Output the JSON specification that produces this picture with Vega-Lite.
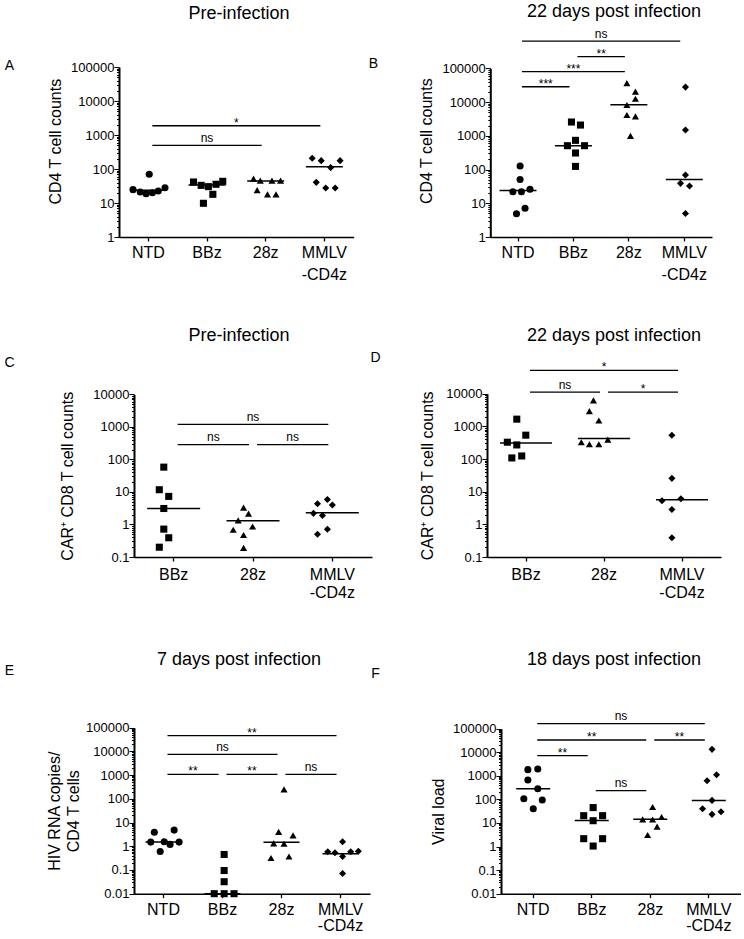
{
  "$schema": "https://vega.github.io/schema/vega-lite/v6.json",
  "padding": {"left": 3, "top": 2, "right": 0, "bottom": 0},
  "config": {
    "font": "Liberation Sans",
    "view": {"stroke": null},
    "axis": {"domainColor": "#000", "tickColor": "#000", "labelColor": "#000", "titleColor": "#000", "labelFont": "Liberation Sans", "titleFont": "Liberation Sans", "titleFontWeight": "normal", "grid": false},
    "title": {"font": "Liberation Sans", "fontSize": 18, "fontWeight": "normal", "color": "#000", "frame": "group"},
    "text": {"font": "Liberation Sans", "color": "#000"}
  },
  "datasets": {
    "points": [
      {"panel": "A", "group": "NTD", "value": 24.7, "dodge": -1.7},
      {"panel": "A", "group": "NTD", "value": 21, "dodge": -0.9},
      {"panel": "A", "group": "NTD", "value": 18.8, "dodge": -0.25},
      {"panel": "A", "group": "NTD", "value": 20.1, "dodge": 0.45},
      {"panel": "A", "group": "NTD", "value": 22.5, "dodge": 1.1},
      {"panel": "A", "group": "NTD", "value": 28.2, "dodge": 1.85},
      {"panel": "A", "group": "NTD", "value": 69.7, "dodge": 0.1},
      {"panel": "A", "group": "BBz", "value": 41.5, "dodge": -1.5},
      {"panel": "A", "group": "BBz", "value": 33, "dodge": -0.65},
      {"panel": "A", "group": "BBz", "value": 30.3, "dodge": 0.15},
      {"panel": "A", "group": "BBz", "value": 35.5, "dodge": 1.0},
      {"panel": "A", "group": "BBz", "value": 43.4, "dodge": 1.75},
      {"panel": "A", "group": "BBz", "value": 18, "dodge": 0.65},
      {"panel": "A", "group": "BBz", "value": 9.8, "dodge": -0.4},
      {"panel": "A", "group": "28z", "value": 52, "dodge": -1.35},
      {"panel": "A", "group": "28z", "value": 45.4, "dodge": -0.6},
      {"panel": "A", "group": "28z", "value": 45.4, "dodge": 0.7},
      {"panel": "A", "group": "28z", "value": 45.4, "dodge": 1.65},
      {"panel": "A", "group": "28z", "value": 24, "dodge": -0.95},
      {"panel": "A", "group": "28z", "value": 18, "dodge": 0.2},
      {"panel": "A", "group": "28z", "value": 18, "dodge": 1.15},
      {"panel": "A", "group": "MMLV-CD4z", "value": 206, "dodge": -1.35},
      {"panel": "A", "group": "MMLV-CD4z", "value": 176, "dodge": -0.35},
      {"panel": "A", "group": "MMLV-CD4z", "value": 176, "dodge": 1.75},
      {"panel": "A", "group": "MMLV-CD4z", "value": 110, "dodge": 0.7},
      {"panel": "A", "group": "MMLV-CD4z", "value": 40.5, "dodge": -0.9},
      {"panel": "A", "group": "MMLV-CD4z", "value": 27.6, "dodge": 0.15},
      {"panel": "A", "group": "MMLV-CD4z", "value": 27.6, "dodge": 1.2},

      {"panel": "B", "group": "NTD", "value": 127, "dodge": 0.05},
      {"panel": "B", "group": "NTD", "value": 51, "dodge": 0.05},
      {"panel": "B", "group": "NTD", "value": 22, "dodge": -0.75},
      {"panel": "B", "group": "NTD", "value": 22, "dodge": 0.2},
      {"panel": "B", "group": "NTD", "value": 26, "dodge": 1.15},
      {"panel": "B", "group": "NTD", "value": 7.1, "dodge": 0.6},
      {"panel": "B", "group": "NTD", "value": 4.9, "dodge": -0.35},
      {"panel": "B", "group": "BBz", "value": 2570, "dodge": -0.4},
      {"panel": "B", "group": "BBz", "value": 2090, "dodge": 0.6},
      {"panel": "B", "group": "BBz", "value": 735, "dodge": 0.05},
      {"panel": "B", "group": "BBz", "value": 510, "dodge": -0.85},
      {"panel": "B", "group": "BBz", "value": 510, "dodge": 1.05},
      {"panel": "B", "group": "BBz", "value": 310, "dodge": 0.05},
      {"panel": "B", "group": "BBz", "value": 124, "dodge": 0.05},
      {"panel": "B", "group": "28z", "value": 36700, "dodge": -0.4},
      {"panel": "B", "group": "28z", "value": 20400, "dodge": 0.55},
      {"panel": "B", "group": "28z", "value": 12600, "dodge": 0.55},
      {"panel": "B", "group": "28z", "value": 8190, "dodge": -0.4},
      {"panel": "B", "group": "28z", "value": 4150, "dodge": -0.4},
      {"panel": "B", "group": "28z", "value": 3780, "dodge": 0.55},
      {"panel": "B", "group": "28z", "value": 1000, "dodge": 0},
      {"panel": "B", "group": "MMLV-CD4z", "value": 27900, "dodge": -0.05},
      {"panel": "B", "group": "MMLV-CD4z", "value": 1490, "dodge": -0.05},
      {"panel": "B", "group": "MMLV-CD4z", "value": 69, "dodge": -0.05},
      {"panel": "B", "group": "MMLV-CD4z", "value": 39, "dodge": -0.6},
      {"panel": "B", "group": "MMLV-CD4z", "value": 32.5, "dodge": 0.4},
      {"panel": "B", "group": "MMLV-CD4z", "value": 5, "dodge": -0.05},

      {"panel": "C", "group": "BBz", "value": 58, "dodge": 0.05},
      {"panel": "C", "group": "BBz", "value": 11.7, "dodge": -0.45},
      {"panel": "C", "group": "BBz", "value": 7.3, "dodge": 0.6},
      {"panel": "C", "group": "BBz", "value": 3.1, "dodge": 0.05},
      {"panel": "C", "group": "BBz", "value": 0.72, "dodge": 0.05},
      {"panel": "C", "group": "BBz", "value": 0.39, "dodge": 0.6},
      {"panel": "C", "group": "BBz", "value": 0.2, "dodge": -0.45},
      {"panel": "C", "group": "28z", "value": 3.29, "dodge": 0.1},
      {"panel": "C", "group": "28z", "value": 2.15, "dodge": 0.65},
      {"panel": "C", "group": "28z", "value": 1.34, "dodge": -0.5},
      {"panel": "C", "group": "28z", "value": 0.87, "dodge": 1.1},
      {"panel": "C", "group": "28z", "value": 0.69, "dodge": -1.05},
      {"panel": "C", "group": "28z", "value": 0.475, "dodge": 0.1},
      {"panel": "C", "group": "28z", "value": 0.19, "dodge": 0.1},
      {"panel": "C", "group": "MMLV-CD4z", "value": 4.36, "dodge": -0.5},
      {"panel": "C", "group": "MMLV-CD4z", "value": 5.9, "dodge": 0.6},
      {"panel": "C", "group": "MMLV-CD4z", "value": 3.98, "dodge": 1.15},
      {"panel": "C", "group": "MMLV-CD4z", "value": 2.2, "dodge": -0.95},
      {"panel": "C", "group": "MMLV-CD4z", "value": 1.9, "dodge": 0.05},
      {"panel": "C", "group": "MMLV-CD4z", "value": 0.71, "dodge": 0.6},
      {"panel": "C", "group": "MMLV-CD4z", "value": 0.5, "dodge": -0.5},

      {"panel": "D", "group": "BBz", "value": 1663, "dodge": 0.05},
      {"panel": "D", "group": "BBz", "value": 537, "dodge": 1.05},
      {"panel": "D", "group": "BBz", "value": 327, "dodge": -1.0},
      {"panel": "D", "group": "BBz", "value": 270, "dodge": 0.05},
      {"panel": "D", "group": "BBz", "value": 124, "dodge": 0.6},
      {"panel": "D", "group": "BBz", "value": 108, "dodge": -0.5},
      {"panel": "D", "group": "28z", "value": 6240, "dodge": -0.1},
      {"panel": "D", "group": "28z", "value": 2930, "dodge": -0.55},
      {"panel": "D", "group": "28z", "value": 1514, "dodge": 0.5},
      {"panel": "D", "group": "28z", "value": 327, "dodge": -1.45},
      {"panel": "D", "group": "28z", "value": 284, "dodge": -0.55},
      {"panel": "D", "group": "28z", "value": 284, "dodge": 0.5},
      {"panel": "D", "group": "28z", "value": 394, "dodge": 1.5},
      {"panel": "D", "group": "MMLV-CD4z", "value": 537, "dodge": -0.05},
      {"panel": "D", "group": "MMLV-CD4z", "value": 25.6, "dodge": -0.05},
      {"panel": "D", "group": "MMLV-CD4z", "value": 5.3, "dodge": -1.15},
      {"panel": "D", "group": "MMLV-CD4z", "value": 6.07, "dodge": 0.95},
      {"panel": "D", "group": "MMLV-CD4z", "value": 2.85, "dodge": -0.05},
      {"panel": "D", "group": "MMLV-CD4z", "value": 0.39, "dodge": -0.05},

      {"panel": "E", "group": "NTD", "value": 1.5, "dodge": -1.4},
      {"panel": "E", "group": "NTD", "value": 1.55, "dodge": 0.1},
      {"panel": "E", "group": "NTD", "value": 1.2, "dodge": 0.75},
      {"panel": "E", "group": "NTD", "value": 1.5, "dodge": 1.75},
      {"panel": "E", "group": "NTD", "value": 3.9, "dodge": -1.0},
      {"panel": "E", "group": "NTD", "value": 4.8, "dodge": 1.2},
      {"panel": "E", "group": "NTD", "value": 0.6, "dodge": -0.35},
      {"panel": "E", "group": "BBz", "value": 0.45, "dodge": 0.2},
      {"panel": "E", "group": "BBz", "value": 0.095, "dodge": 0.2},
      {"panel": "E", "group": "BBz", "value": 0.032, "dodge": 0.2},
      {"panel": "E", "group": "BBz", "value": 0.01, "dodge": -0.9},
      {"panel": "E", "group": "BBz", "value": 0.01, "dodge": 0.2},
      {"panel": "E", "group": "BBz", "value": 0.01, "dodge": 1.3},
      {"panel": "E", "group": "28z", "value": 4.07, "dodge": -0.3},
      {"panel": "E", "group": "28z", "value": 2.89, "dodge": 1.3},
      {"panel": "E", "group": "28z", "value": 1.32, "dodge": -0.85},
      {"panel": "E", "group": "28z", "value": 1.28, "dodge": 0.3},
      {"panel": "E", "group": "28z", "value": 0.32, "dodge": -1.15},
      {"panel": "E", "group": "28z", "value": 0.37, "dodge": 0.85},
      {"panel": "E", "group": "28z", "value": 251, "dodge": 0.3},
      {"panel": "E", "group": "MMLV-CD4z", "value": 1.55, "dodge": 0.25},
      {"panel": "E", "group": "MMLV-CD4z", "value": 0.59, "dodge": -1.4},
      {"panel": "E", "group": "MMLV-CD4z", "value": 0.53, "dodge": -0.6},
      {"panel": "E", "group": "MMLV-CD4z", "value": 0.59, "dodge": 1.15},
      {"panel": "E", "group": "MMLV-CD4z", "value": 0.62, "dodge": 2.0},
      {"panel": "E", "group": "MMLV-CD4z", "value": 0.37, "dodge": 0.25},
      {"panel": "E", "group": "MMLV-CD4z", "value": 0.071, "dodge": 0.25},

      {"panel": "F", "group": "NTD", "value": 1830, "dodge": -0.6},
      {"panel": "F", "group": "NTD", "value": 1950, "dodge": 0.5},
      {"panel": "F", "group": "NTD", "value": 665, "dodge": -0.6},
      {"panel": "F", "group": "NTD", "value": 285, "dodge": 0.5},
      {"panel": "F", "group": "NTD", "value": 107, "dodge": -1.05},
      {"panel": "F", "group": "NTD", "value": 94, "dodge": 1.0},
      {"panel": "F", "group": "NTD", "value": 40.5, "dodge": 0},
      {"panel": "F", "group": "BBz", "value": 45, "dodge": 0.15},
      {"panel": "F", "group": "BBz", "value": 20.4, "dodge": -0.9},
      {"panel": "F", "group": "BBz", "value": 20.4, "dodge": 1.2},
      {"panel": "F", "group": "BBz", "value": 12.5, "dodge": 0.15},
      {"panel": "F", "group": "BBz", "value": 2.16, "dodge": -0.9},
      {"panel": "F", "group": "BBz", "value": 2.16, "dodge": 1.2},
      {"panel": "F", "group": "BBz", "value": 1.05, "dodge": 0.15},
      {"panel": "F", "group": "28z", "value": 47.5, "dodge": 0.25},
      {"panel": "F", "group": "28z", "value": 17.9, "dodge": 1.25},
      {"panel": "F", "group": "28z", "value": 14.3, "dodge": -0.85},
      {"panel": "F", "group": "28z", "value": 14, "dodge": 0.25},
      {"panel": "F", "group": "28z", "value": 7, "dodge": 0.75},
      {"panel": "F", "group": "28z", "value": 3.1, "dodge": -0.3},
      {"panel": "F", "group": "MMLV-CD4z", "value": 13300, "dodge": 0.35},
      {"panel": "F", "group": "MMLV-CD4z", "value": 1120, "dodge": 0.85},
      {"panel": "F", "group": "MMLV-CD4z", "value": 624, "dodge": -0.2},
      {"panel": "F", "group": "MMLV-CD4z", "value": 91, "dodge": 0.35},
      {"panel": "F", "group": "MMLV-CD4z", "value": 40.5, "dodge": -0.7},
      {"panel": "F", "group": "MMLV-CD4z", "value": 30.2, "dodge": 1.35},
      {"panel": "F", "group": "MMLV-CD4z", "value": 23.2, "dodge": 0.35}
    ],
    "medians": [
      {"panel": "A", "group": "NTD", "value": 23.6},
      {"panel": "A", "group": "BBz", "value": 34},
      {"panel": "A", "group": "28z", "value": 44.4},
      {"panel": "A", "group": "MMLV-CD4z", "value": 117},
      {"panel": "B", "group": "NTD", "value": 24},
      {"panel": "B", "group": "BBz", "value": 510},
      {"panel": "B", "group": "28z", "value": 8300},
      {"panel": "B", "group": "MMLV-CD4z", "value": 51},
      {"panel": "C", "group": "BBz", "value": 3.1},
      {"panel": "C", "group": "28z", "value": 1.3},
      {"panel": "C", "group": "MMLV-CD4z", "value": 2.3},
      {"panel": "D", "group": "BBz", "value": 312},
      {"panel": "D", "group": "28z", "value": 424},
      {"panel": "D", "group": "MMLV-CD4z", "value": 5.65},
      {"panel": "E", "group": "NTD", "value": 1.5},
      {"panel": "E", "group": "BBz", "value": 0.01},
      {"panel": "E", "group": "28z", "value": 1.46},
      {"panel": "E", "group": "MMLV-CD4z", "value": 0.48},
      {"panel": "F", "group": "NTD", "value": 285},
      {"panel": "F", "group": "BBz", "value": 12.9},
      {"panel": "F", "group": "28z", "value": 14.3},
      {"panel": "F", "group": "MMLV-CD4z", "value": 91}
    ],
    "sig": [
      {"panel": "A", "from": "NTD", "to": "MMLV-CD4z", "value": 1870, "label": "*"},
      {"panel": "A", "from": "NTD", "to": "28z", "value": 494, "label": "ns"},
      {"panel": "B", "from": "NTD", "to": "MMLV-CD4z", "value": 645000, "label": "ns"},
      {"panel": "B", "from": "BBz", "to": "28z", "value": 222000, "label": "**"},
      {"panel": "B", "from": "NTD", "to": "28z", "value": 79700, "label": "***"},
      {"panel": "B", "from": "NTD", "to": "BBz", "value": 28600, "label": "***"},
      {"panel": "C", "from": "BBz", "to": "MMLV-CD4z", "value": 1200, "label": "ns"},
      {"panel": "C", "from": "BBz", "to": "28z", "value": 284, "label": "ns"},
      {"panel": "C", "from": "28z", "to": "MMLV-CD4z", "value": 284, "label": "ns"},
      {"panel": "D", "from": "BBz", "to": "MMLV-CD4z", "value": 52100, "label": "*"},
      {"panel": "D", "from": "BBz", "to": "28z", "value": 11200, "label": "ns"},
      {"panel": "D", "from": "28z", "to": "MMLV-CD4z", "value": 11200, "label": "*"},
      {"panel": "E", "from": "NTD", "to": "MMLV-CD4z", "value": 46400, "label": "**"},
      {"panel": "E", "from": "NTD", "to": "28z", "value": 7570, "label": "ns"},
      {"panel": "E", "from": "NTD", "to": "BBz", "value": 1080, "label": "**"},
      {"panel": "E", "from": "BBz", "to": "28z", "value": 1080, "label": "**"},
      {"panel": "E", "from": "28z", "to": "MMLV-CD4z", "value": 1080, "label": "ns"},
      {"panel": "F", "from": "NTD", "to": "MMLV-CD4z", "value": 163000, "label": "ns"},
      {"panel": "F", "from": "NTD", "to": "28z", "value": 33100, "label": "**"},
      {"panel": "F", "from": "28z", "to": "MMLV-CD4z", "value": 33100, "label": "**"},
      {"panel": "F", "from": "NTD", "to": "BBz", "value": 7180, "label": "**"},
      {"panel": "F", "from": "BBz", "to": "28z", "value": 234, "label": "ns"}
    ]
  },
  "columns": 2,
  "bounds": "flush",
  "align": "each",
  "spacing": {"row": 143, "column": 115},
  "concat": [
    {
      "width": 253, "height": 170,
      "title": {"text": "Pre-infection", "offset": 35.5, "dx": -6.5},
      "layer": [
        {"data": {"name": "points"}, "transform": [{"filter": "datum.panel == 'A'"}],
         "mark": {"type": "point", "filled": true, "size": 50, "color": "#000", "opacity": 1},
         "encoding": {
           "x": {"field": "group", "type": "nominal", "scale": {"type": "band", "domain": ["NTD", "BBz", "28z", "MMLV-CD4z"], "range": [0, 234.7], "paddingInner": 0, "paddingOuter": 0},
                 "axis": {"title": "A", "titleX": -110, "titleY": -171.3, "titleAngle": 0, "titleAlign": "center", "titleBaseline": "middle", "titleFontSize": 14, "labelAngle": 0, "labelFontSize": 16, "labelPadding": 3, "tickSize": 4, "tickWidth": 1.3, "domainWidth": 1.5, "labelLineHeight": 22, "labelBaseline": "top", "labelExpr": "datum.value == 'MMLV-CD4z' ? ['MMLV', '-CD4z'] : datum.label"}},
           "xOffset": {"field": "dodge", "type": "quantitative", "scale": {"domain": [-4, 4], "range": [-6.66, 65.34]}},
           "y": {"field": "value", "type": "quantitative", "scale": {"type": "log", "domain": [1, 100000], "range": [170, 0], "nice": false},
                 "axis": {"title": "CD4 T cell counts", "titleY": 74.2, "titleFontSize": 16, "titlePadding": 7, "labelFontSize": 13, "labelPadding": 0, "domainWidth": 2, "tickWidth": 1, "labelOverlap": false, "labelFlush": false,
                          "values": [1,2,3,4,5,6,7,8,9,10,20,30,40,50,60,70,80,90,100,200,300,400,500,600,700,800,900,1000,2000,3000,4000,5000,6000,7000,8000,9000,10000,20000,30000,40000,50000,60000,70000,80000,90000,100000],
                          "labelExpr": "abs(log(datum.value)/LN10 - round(log(datum.value)/LN10)) < 0.0001 ? format(datum.value, '~g') : ''",
                          "tickSize": {"condition": {"test": "abs(log(datum.value)/LN10 - round(log(datum.value)/LN10)) < 0.0001", "value": 5}, "value": 2.5}}},
           "shape": {"field": "group", "type": "nominal", "scale": {"domain": ["NTD", "BBz", "28z", "MMLV-CD4z"], "range": ["circle", "square", "triangle-up", "diamond"]}, "legend": null}
         }},
        {"data": {"name": "medians"}, "transform": [{"filter": "datum.panel == 'A'"}],
         "mark": {"type": "tick", "size": 37, "thickness": 1.5, "color": "#000", "opacity": 1},
         "encoding": {"x": {"field": "group", "type": "nominal", "scale": {"domain": ["NTD", "BBz", "28z", "MMLV-CD4z"]}},
                      "y": {"field": "value", "type": "quantitative", "scale": {"type": "log", "domain": [1, 100000], "nice": false}}}},
        {"data": {"name": "sig"}, "transform": [{"filter": "datum.panel == 'A'"}],
         "mark": {"type": "rule", "color": "#000", "strokeWidth": 1.3, "xOffset": 4, "x2Offset": -4},
         "encoding": {"x": {"field": "from", "type": "nominal", "scale": {"domain": ["NTD", "BBz", "28z", "MMLV-CD4z"]}}, "x2": {"field": "to"},
                      "y": {"field": "value", "type": "quantitative", "scale": {"type": "log", "domain": [1, 100000], "nice": false}}}},
        {"data": {"name": "sig"}, "transform": [{"filter": "datum.panel == 'A' && indexof(['NTD','BBz','28z','MMLV-CD4z'], datum.to) - indexof(['NTD','BBz','28z','MMLV-CD4z'], datum.from) == 3"}],
         "mark": {"type": "text", "fontSize": 12, "baseline": "alphabetic", "dy": {"expr": "datum.label == 'ns' ? -3.5 : 1"}},
         "encoding": {"x": {"field": "from", "type": "nominal", "bandPosition": 2.0, "scale": {"domain": ["NTD", "BBz", "28z", "MMLV-CD4z"]}},
                      "y": {"field": "value", "type": "quantitative", "scale": {"type": "log", "domain": [1, 100000], "nice": false}}, "text": {"field": "label"}}},
        {"data": {"name": "sig"}, "transform": [{"filter": "datum.panel == 'A' && indexof(['NTD','BBz','28z','MMLV-CD4z'], datum.to) - indexof(['NTD','BBz','28z','MMLV-CD4z'], datum.from) == 2"}],
         "mark": {"type": "text", "fontSize": 12, "baseline": "alphabetic", "dy": {"expr": "datum.label == 'ns' ? -3.5 : 1"}},
         "encoding": {"x": {"field": "from", "type": "nominal", "bandPosition": 1.5, "scale": {"domain": ["NTD", "BBz", "28z", "MMLV-CD4z"]}},
                      "y": {"field": "value", "type": "quantitative", "scale": {"type": "log", "domain": [1, 100000], "nice": false}}, "text": {"field": "label"}}}
      ]
    },
    {
      "width": 254, "height": 170,
      "title": {"text": "22 days post infection", "offset": 7, "dx": 0},
      "layer": [
        {"data": {"name": "points"}, "transform": [{"filter": "datum.panel == 'B'"}],
         "mark": {"type": "point", "filled": true, "size": 50, "color": "#000", "opacity": 1},
         "encoding": {
           "x": {"field": "group", "type": "nominal", "scale": {"type": "band", "domain": ["NTD", "BBz", "28z", "MMLV-CD4z"], "range": [3.3, 225], "paddingInner": 0, "paddingOuter": 0},
                 "axis": {"title": "B", "titleX": -114, "titleY": -173.3, "titleAngle": 0, "titleAlign": "center", "titleBaseline": "middle", "titleFontSize": 14, "labelAngle": 0, "labelFontSize": 16, "labelPadding": 3, "tickSize": 4, "tickWidth": 1.3, "domainWidth": 1.5, "labelLineHeight": 22, "labelBaseline": "top", "labelExpr": "datum.value == 'MMLV-CD4z' ? ['MMLV', '-CD4z'] : datum.label"}},
           "xOffset": {"field": "dodge", "type": "quantitative", "scale": {"domain": [-4, 4], "range": [-8.29, 63.71]}},
           "y": {"field": "value", "type": "quantitative", "scale": {"type": "log", "domain": [1, 100000], "range": [170, 1.4], "nice": false},
                 "axis": {"title": "CD4 T cell counts", "titleY": 73.7, "offset": -3.3, "titleFontSize": 16, "titlePadding": 7, "labelFontSize": 13, "labelPadding": 0, "domainWidth": 2, "tickWidth": 1, "labelOverlap": false, "labelFlush": false,
                          "values": [1,2,3,4,5,6,7,8,9,10,20,30,40,50,60,70,80,90,100,200,300,400,500,600,700,800,900,1000,2000,3000,4000,5000,6000,7000,8000,9000,10000,20000,30000,40000,50000,60000,70000,80000,90000,100000],
                          "labelExpr": "abs(log(datum.value)/LN10 - round(log(datum.value)/LN10)) < 0.0001 ? format(datum.value, '~g') : ''",
                          "tickSize": {"condition": {"test": "abs(log(datum.value)/LN10 - round(log(datum.value)/LN10)) < 0.0001", "value": 5}, "value": 2.5}}},
           "shape": {"field": "group", "type": "nominal", "scale": {"domain": ["NTD", "BBz", "28z", "MMLV-CD4z"], "range": ["circle", "square", "triangle-up", "diamond"]}, "legend": null}
         }},
        {"data": {"name": "medians"}, "transform": [{"filter": "datum.panel == 'B'"}],
         "mark": {"type": "tick", "size": 37, "thickness": 1.5, "color": "#000", "opacity": 1},
         "encoding": {"x": {"field": "group", "type": "nominal", "scale": {"domain": ["NTD", "BBz", "28z", "MMLV-CD4z"]}},
                      "y": {"field": "value", "type": "quantitative", "scale": {"type": "log", "domain": [1, 100000], "nice": false}}}},
        {"data": {"name": "sig"}, "transform": [{"filter": "datum.panel == 'B'"}],
         "mark": {"type": "rule", "color": "#000", "strokeWidth": 1.3, "xOffset": 4, "x2Offset": -4},
         "encoding": {"x": {"field": "from", "type": "nominal", "scale": {"domain": ["NTD", "BBz", "28z", "MMLV-CD4z"]}}, "x2": {"field": "to"},
                      "y": {"field": "value", "type": "quantitative", "scale": {"type": "log", "domain": [1, 100000], "nice": false}}}},
        {"data": {"name": "sig"}, "transform": [{"filter": "datum.panel == 'B' && indexof(['NTD','BBz','28z','MMLV-CD4z'], datum.to) - indexof(['NTD','BBz','28z','MMLV-CD4z'], datum.from) == 3"}],
         "mark": {"type": "text", "fontSize": 12, "baseline": "alphabetic", "dy": {"expr": "datum.label == 'ns' ? -3.5 : 1"}},
         "encoding": {"x": {"field": "from", "type": "nominal", "bandPosition": 2.0, "scale": {"domain": ["NTD", "BBz", "28z", "MMLV-CD4z"]}},
                      "y": {"field": "value", "type": "quantitative", "scale": {"type": "log", "domain": [1, 100000], "nice": false}}, "text": {"field": "label"}}},
        {"data": {"name": "sig"}, "transform": [{"filter": "datum.panel == 'B' && indexof(['NTD','BBz','28z','MMLV-CD4z'], datum.to) - indexof(['NTD','BBz','28z','MMLV-CD4z'], datum.from) == 2"}],
         "mark": {"type": "text", "fontSize": 12, "baseline": "alphabetic", "dy": {"expr": "datum.label == 'ns' ? -3.5 : 1"}},
         "encoding": {"x": {"field": "from", "type": "nominal", "bandPosition": 1.5, "scale": {"domain": ["NTD", "BBz", "28z", "MMLV-CD4z"]}},
                      "y": {"field": "value", "type": "quantitative", "scale": {"type": "log", "domain": [1, 100000], "nice": false}}, "text": {"field": "label"}}},
        {"data": {"name": "sig"}, "transform": [{"filter": "datum.panel == 'B' && indexof(['NTD','BBz','28z','MMLV-CD4z'], datum.to) - indexof(['NTD','BBz','28z','MMLV-CD4z'], datum.from) == 1"}],
         "mark": {"type": "text", "fontSize": 12, "baseline": "alphabetic", "dy": {"expr": "datum.label == 'ns' ? -3.5 : 1"}},
         "encoding": {"x": {"field": "from", "type": "nominal", "bandPosition": 1.0, "scale": {"domain": ["NTD", "BBz", "28z", "MMLV-CD4z"]}},
                      "y": {"field": "value", "type": "quantitative", "scale": {"type": "log", "domain": [1, 100000], "nice": false}}, "text": {"field": "label"}}}
      ]
    },
    {
      "width": 253, "height": 177,
      "title": {"text": "Pre-infection", "offset": 10.5, "dx": -6.5},
      "layer": [
        {"data": {"name": "points"}, "transform": [{"filter": "datum.panel == 'C'"}],
         "mark": {"type": "point", "filled": true, "size": 50, "color": "#000", "opacity": 1},
         "encoding": {
           "x": {"field": "group", "type": "nominal", "scale": {"type": "band", "domain": ["BBz", "28z", "MMLV-CD4z"], "range": [15, 253], "paddingInner": 0, "paddingOuter": 0},
                 "axis": {"title": "C", "titleX": -110, "titleY": -194.3, "titleAngle": 0, "titleAlign": "center", "titleBaseline": "middle", "titleFontSize": 14, "labelAngle": 0, "labelFontSize": 16, "labelPadding": 5.5, "tickSize": 4, "tickWidth": 1.3, "domainWidth": 1.5, "labelLineHeight": 17.5, "labelBaseline": "top", "labelExpr": "datum.value == 'MMLV-CD4z' ? ['MMLV', '-CD4z'] : datum.label"}},
           "xOffset": {"field": "dodge", "type": "quantitative", "scale": {"domain": [-4, 4], "range": [3.67, 75.67]}},
           "y": {"field": "value", "type": "quantitative", "scale": {"type": "log", "domain": [0.1, 10000], "range": [177, 14.4], "nice": false},
                 "axis": {"title": "CAR⁺ CD8 T cell counts", "offset": -15, "titleFontSize": 16, "titlePadding": 17, "labelFontSize": 13, "labelPadding": 0, "domainWidth": 2, "tickWidth": 1, "labelOverlap": false, "labelFlush": false,
                          "values": [0.1,0.2,0.3,0.4,0.5,0.6,0.7,0.8,0.9,1,2,3,4,5,6,7,8,9,10,20,30,40,50,60,70,80,90,100,200,300,400,500,600,700,800,900,1000,2000,3000,4000,5000,6000,7000,8000,9000,10000],
                          "labelExpr": "abs(log(datum.value)/LN10 - round(log(datum.value)/LN10)) < 0.0001 ? format(datum.value, '~g') : ''",
                          "tickSize": {"condition": {"test": "abs(log(datum.value)/LN10 - round(log(datum.value)/LN10)) < 0.0001", "value": 5}, "value": 2.5}}},
           "shape": {"field": "group", "type": "nominal", "scale": {"domain": ["BBz", "28z", "MMLV-CD4z"], "range": ["square", "triangle-up", "diamond"]}, "legend": null}
         }},
        {"data": {"name": "medians"}, "transform": [{"filter": "datum.panel == 'C'"}],
         "mark": {"type": "tick", "size": 53, "thickness": 1.5, "color": "#000", "opacity": 1},
         "encoding": {"x": {"field": "group", "type": "nominal", "scale": {"domain": ["BBz", "28z", "MMLV-CD4z"]}},
                      "y": {"field": "value", "type": "quantitative", "scale": {"type": "log", "domain": [0.1, 10000], "nice": false}}}},
        {"data": {"name": "sig"}, "transform": [{"filter": "datum.panel == 'C'"}],
         "mark": {"type": "rule", "color": "#000", "strokeWidth": 1.3, "xOffset": 4, "x2Offset": -4},
         "encoding": {"x": {"field": "from", "type": "nominal", "scale": {"domain": ["BBz", "28z", "MMLV-CD4z"]}}, "x2": {"field": "to"},
                      "y": {"field": "value", "type": "quantitative", "scale": {"type": "log", "domain": [0.1, 10000], "nice": false}}}},
        {"data": {"name": "sig"}, "transform": [{"filter": "datum.panel == 'C' && indexof(['BBz','28z','MMLV-CD4z'], datum.to) - indexof(['BBz','28z','MMLV-CD4z'], datum.from) == 2"}],
         "mark": {"type": "text", "fontSize": 12, "baseline": "alphabetic", "dy": {"expr": "datum.label == 'ns' ? -3.5 : 1"}},
         "encoding": {"x": {"field": "from", "type": "nominal", "bandPosition": 1.5, "scale": {"domain": ["BBz", "28z", "MMLV-CD4z"]}},
                      "y": {"field": "value", "type": "quantitative", "scale": {"type": "log", "domain": [0.1, 10000], "nice": false}}, "text": {"field": "label"}}},
        {"data": {"name": "sig"}, "transform": [{"filter": "datum.panel == 'C' && indexof(['BBz','28z','MMLV-CD4z'], datum.to) - indexof(['BBz','28z','MMLV-CD4z'], datum.from) == 1"}],
         "mark": {"type": "text", "fontSize": 12, "baseline": "alphabetic", "dy": {"expr": "datum.label == 'ns' ? -3.5 : 1"}},
         "encoding": {"x": {"field": "from", "type": "nominal", "bandPosition": 1.0, "scale": {"domain": ["BBz", "28z", "MMLV-CD4z"]}},
                      "y": {"field": "value", "type": "quantitative", "scale": {"type": "log", "domain": [0.1, 10000], "nice": false}}, "text": {"field": "label"}}}
      ]
    },
    {
      "width": 254, "height": 177,
      "title": {"text": "22 days post infection", "offset": 5.5, "dx": 0},
      "layer": [
        {"data": {"name": "points"}, "transform": [{"filter": "datum.panel == 'D'"}],
         "mark": {"type": "point", "filled": true, "size": 50, "color": "#000", "opacity": 1},
         "encoding": {
           "x": {"field": "group", "type": "nominal", "scale": {"type": "band", "domain": ["BBz", "28z", "MMLV-CD4z"], "range": [0, 234], "paddingInner": 0, "paddingOuter": 0},
                 "axis": {"title": "D", "titleX": -112, "titleY": -199.3, "titleAngle": 0, "titleAlign": "center", "titleBaseline": "middle", "titleFontSize": 14, "labelAngle": 0, "labelFontSize": 16, "labelPadding": 5.5, "tickSize": 4, "tickWidth": 1.3, "domainWidth": 1.5, "labelLineHeight": 17.5, "labelBaseline": "top", "labelExpr": "datum.value == 'MMLV-CD4z' ? ['MMLV', '-CD4z'] : datum.label"}},
           "xOffset": {"field": "dodge", "type": "quantitative", "scale": {"domain": [-4, 4], "range": [3, 75]}},
           "y": {"field": "value", "type": "quantitative", "scale": {"type": "log", "domain": [0.1, 10000], "range": [177, 13.7], "nice": false},
                 "axis": {"title": "CAR⁺ CD8 T cell counts", "titleFontSize": 16, "titlePadding": 10, "labelFontSize": 13, "labelPadding": 0, "domainWidth": 2, "tickWidth": 1, "labelOverlap": false, "labelFlush": false,
                          "values": [0.1,0.2,0.3,0.4,0.5,0.6,0.7,0.8,0.9,1,2,3,4,5,6,7,8,9,10,20,30,40,50,60,70,80,90,100,200,300,400,500,600,700,800,900,1000,2000,3000,4000,5000,6000,7000,8000,9000,10000],
                          "labelExpr": "abs(log(datum.value)/LN10 - round(log(datum.value)/LN10)) < 0.0001 ? format(datum.value, '~g') : ''",
                          "tickSize": {"condition": {"test": "abs(log(datum.value)/LN10 - round(log(datum.value)/LN10)) < 0.0001", "value": 5}, "value": 2.5}}},
           "shape": {"field": "group", "type": "nominal", "scale": {"domain": ["BBz", "28z", "MMLV-CD4z"], "range": ["square", "triangle-up", "diamond"]}, "legend": null}
         }},
        {"data": {"name": "medians"}, "transform": [{"filter": "datum.panel == 'D'"}],
         "mark": {"type": "tick", "size": 52, "thickness": 1.5, "color": "#000", "opacity": 1},
         "encoding": {"x": {"field": "group", "type": "nominal", "scale": {"domain": ["BBz", "28z", "MMLV-CD4z"]}},
                      "y": {"field": "value", "type": "quantitative", "scale": {"type": "log", "domain": [0.1, 10000], "nice": false}}}},
        {"data": {"name": "sig"}, "transform": [{"filter": "datum.panel == 'D'"}],
         "mark": {"type": "rule", "color": "#000", "strokeWidth": 1.3, "xOffset": 4, "x2Offset": -4},
         "encoding": {"x": {"field": "from", "type": "nominal", "scale": {"domain": ["BBz", "28z", "MMLV-CD4z"]}}, "x2": {"field": "to"},
                      "y": {"field": "value", "type": "quantitative", "scale": {"type": "log", "domain": [0.1, 10000], "nice": false}}}},
        {"data": {"name": "sig"}, "transform": [{"filter": "datum.panel == 'D' && indexof(['BBz','28z','MMLV-CD4z'], datum.to) - indexof(['BBz','28z','MMLV-CD4z'], datum.from) == 2"}],
         "mark": {"type": "text", "fontSize": 12, "baseline": "alphabetic", "dy": {"expr": "datum.label == 'ns' ? -3.5 : 1"}},
         "encoding": {"x": {"field": "from", "type": "nominal", "bandPosition": 1.5, "scale": {"domain": ["BBz", "28z", "MMLV-CD4z"]}},
                      "y": {"field": "value", "type": "quantitative", "scale": {"type": "log", "domain": [0.1, 10000], "nice": false}}, "text": {"field": "label"}}},
        {"data": {"name": "sig"}, "transform": [{"filter": "datum.panel == 'D' && indexof(['BBz','28z','MMLV-CD4z'], datum.to) - indexof(['BBz','28z','MMLV-CD4z'], datum.from) == 1"}],
         "mark": {"type": "text", "fontSize": 12, "baseline": "alphabetic", "dy": {"expr": "datum.label == 'ns' ? -3.5 : 1"}},
         "encoding": {"x": {"field": "from", "type": "nominal", "bandPosition": 1.0, "scale": {"domain": ["BBz", "28z", "MMLV-CD4z"]}},
                      "y": {"field": "value", "type": "quantitative", "scale": {"type": "log", "domain": [0.1, 10000], "nice": false}}, "text": {"field": "label"}}}
      ]
    },
    {
      "width": 253, "height": 193.7,
      "title": {"text": "7 days post infection", "offset": -5.5, "dx": -6.5},
      "layer": [
        {"data": {"name": "points"}, "transform": [{"filter": "datum.panel == 'E'"}],
         "mark": {"type": "point", "filled": true, "size": 50, "color": "#000", "opacity": 1},
         "encoding": {
           "x": {"field": "group", "type": "nominal", "scale": {"type": "band", "domain": ["NTD", "BBz", "28z", "MMLV-CD4z"], "range": [15, 251], "paddingInner": 0, "paddingOuter": 0},
                 "axis": {"title": "E", "titleX": -110, "titleY": -223, "titleAngle": 0, "titleAlign": "center", "titleBaseline": "middle", "titleFontSize": 14, "labelAngle": 0, "labelFontSize": 16, "labelPadding": 3.3, "tickSize": 4, "tickWidth": 1.3, "domainWidth": 1.5, "labelLineHeight": 16, "labelBaseline": "top", "labelExpr": "datum.value == 'MMLV-CD4z' ? ['MMLV', '-CD4z'] : datum.label"}},
           "xOffset": {"field": "dodge", "type": "quantitative", "scale": {"domain": [-4, 4], "range": [-6.5, 65.5]}},
           "y": {"field": "value", "type": "quantitative", "scale": {"type": "log", "domain": [0.01, 100000], "range": [193.7, 27.7], "nice": false},
                 "axis": {"title": ["HIV RNA copies/", "CD4 T cells"], "offset": -15, "titleFontSize": 16, "titleLineHeight": 19, "titlePadding": 4, "labelFontSize": 13, "labelPadding": 0, "domainWidth": 2, "tickWidth": 1, "labelOverlap": false, "labelFlush": false,
                          "values": [0.01,0.02,0.03,0.04,0.05,0.06,0.07,0.08,0.09,0.1,0.2,0.3,0.4,0.5,0.6,0.7,0.8,0.9,1,2,3,4,5,6,7,8,9,10,20,30,40,50,60,70,80,90,100,200,300,400,500,600,700,800,900,1000,2000,3000,4000,5000,6000,7000,8000,9000,10000,20000,30000,40000,50000,60000,70000,80000,90000,100000],
                          "labelExpr": "abs(log(datum.value)/LN10 - round(log(datum.value)/LN10)) < 0.0001 ? format(datum.value, '~g') : ''",
                          "tickSize": {"condition": {"test": "abs(log(datum.value)/LN10 - round(log(datum.value)/LN10)) < 0.0001", "value": 5}, "value": 2.5}}},
           "shape": {"field": "group", "type": "nominal", "scale": {"domain": ["NTD", "BBz", "28z", "MMLV-CD4z"], "range": ["circle", "square", "triangle-up", "triangle-down"]}, "legend": null}
         }},
        {"data": {"name": "medians"}, "transform": [{"filter": "datum.panel == 'E'"}],
         "mark": {"type": "tick", "size": 36, "thickness": 1.5, "color": "#000", "opacity": 1},
         "encoding": {"x": {"field": "group", "type": "nominal", "scale": {"domain": ["NTD", "BBz", "28z", "MMLV-CD4z"]}},
                      "y": {"field": "value", "type": "quantitative", "scale": {"type": "log", "domain": [0.01, 100000], "nice": false}}}},
        {"data": {"name": "sig"}, "transform": [{"filter": "datum.panel == 'E'"}],
         "mark": {"type": "rule", "color": "#000", "strokeWidth": 1.3, "xOffset": 4, "x2Offset": -4},
         "encoding": {"x": {"field": "from", "type": "nominal", "scale": {"domain": ["NTD", "BBz", "28z", "MMLV-CD4z"]}}, "x2": {"field": "to"},
                      "y": {"field": "value", "type": "quantitative", "scale": {"type": "log", "domain": [0.01, 100000], "nice": false}}}},
        {"data": {"name": "sig"}, "transform": [{"filter": "datum.panel == 'E' && indexof(['NTD','BBz','28z','MMLV-CD4z'], datum.to) - indexof(['NTD','BBz','28z','MMLV-CD4z'], datum.from) == 3"}],
         "mark": {"type": "text", "fontSize": 12, "baseline": "alphabetic", "dy": {"expr": "datum.label == 'ns' ? -3.5 : 1"}},
         "encoding": {"x": {"field": "from", "type": "nominal", "bandPosition": 2.0, "scale": {"domain": ["NTD", "BBz", "28z", "MMLV-CD4z"]}},
                      "y": {"field": "value", "type": "quantitative", "scale": {"type": "log", "domain": [0.01, 100000], "nice": false}}, "text": {"field": "label"}}},
        {"data": {"name": "sig"}, "transform": [{"filter": "datum.panel == 'E' && indexof(['NTD','BBz','28z','MMLV-CD4z'], datum.to) - indexof(['NTD','BBz','28z','MMLV-CD4z'], datum.from) == 2"}],
         "mark": {"type": "text", "fontSize": 12, "baseline": "alphabetic", "dy": {"expr": "datum.label == 'ns' ? -3.5 : 1"}},
         "encoding": {"x": {"field": "from", "type": "nominal", "bandPosition": 1.5, "scale": {"domain": ["NTD", "BBz", "28z", "MMLV-CD4z"]}},
                      "y": {"field": "value", "type": "quantitative", "scale": {"type": "log", "domain": [0.01, 100000], "nice": false}}, "text": {"field": "label"}}},
        {"data": {"name": "sig"}, "transform": [{"filter": "datum.panel == 'E' && indexof(['NTD','BBz','28z','MMLV-CD4z'], datum.to) - indexof(['NTD','BBz','28z','MMLV-CD4z'], datum.from) == 1"}],
         "mark": {"type": "text", "fontSize": 12, "baseline": "alphabetic", "dy": {"expr": "datum.label == 'ns' ? -3.5 : 1"}},
         "encoding": {"x": {"field": "from", "type": "nominal", "bandPosition": 1.0, "scale": {"domain": ["NTD", "BBz", "28z", "MMLV-CD4z"]}},
                      "y": {"field": "value", "type": "quantitative", "scale": {"type": "log", "domain": [0.01, 100000], "nice": false}}, "text": {"field": "label"}}}
      ]
    },
    {
      "width": 254, "height": 193.7,
      "title": {"text": "18 days post infection", "offset": -2.5, "dx": 0},
      "layer": [
        {"data": {"name": "points"}, "transform": [{"filter": "datum.panel == 'F'"}],
         "mark": {"type": "point", "filled": true, "size": 50, "color": "#000", "opacity": 1},
         "encoding": {
           "x": {"field": "group", "type": "nominal", "scale": {"type": "band", "domain": ["NTD", "BBz", "28z", "MMLV-CD4z"], "range": [14, 254], "paddingInner": 0, "paddingOuter": 0.05},
                 "axis": {"title": "F", "titleX": -112, "titleY": -220, "titleAngle": 0, "titleAlign": "center", "titleBaseline": "middle", "titleFontSize": 14, "labelAngle": 0, "labelFontSize": 16, "labelPadding": 3.3, "tickSize": 4, "tickWidth": 1.3, "domainWidth": 1.5, "labelLineHeight": 16, "labelBaseline": "top", "labelExpr": "datum.value == 'MMLV-CD4z' ? ['MMLV', '-CD4z'] : datum.label"}},
           "xOffset": {"field": "dodge", "type": "quantitative", "scale": {"domain": [-4, 4], "range": [-6.73, 65.27]}},
           "y": {"field": "value", "type": "quantitative", "scale": {"type": "log", "domain": [0.01, 100000], "range": [193.7, 28.7], "nice": false},
                 "axis": {"title": "Viral load", "offset": -14, "titleFontSize": 16, "titlePadding": 6, "labelFontSize": 13, "labelPadding": 0, "domainWidth": 2, "tickWidth": 1, "labelOverlap": false, "labelFlush": false,
                          "values": [0.01,0.02,0.03,0.04,0.05,0.06,0.07,0.08,0.09,0.1,0.2,0.3,0.4,0.5,0.6,0.7,0.8,0.9,1,2,3,4,5,6,7,8,9,10,20,30,40,50,60,70,80,90,100,200,300,400,500,600,700,800,900,1000,2000,3000,4000,5000,6000,7000,8000,9000,10000,20000,30000,40000,50000,60000,70000,80000,90000,100000],
                          "labelExpr": "abs(log(datum.value)/LN10 - round(log(datum.value)/LN10)) < 0.0001 ? format(datum.value, '~g') : ''",
                          "tickSize": {"condition": {"test": "abs(log(datum.value)/LN10 - round(log(datum.value)/LN10)) < 0.0001", "value": 5}, "value": 2.5}}},
           "shape": {"field": "group", "type": "nominal", "scale": {"domain": ["NTD", "BBz", "28z", "MMLV-CD4z"], "range": ["circle", "square", "triangle-up", "diamond"]}, "legend": null}
         }},
        {"data": {"name": "medians"}, "transform": [{"filter": "datum.panel == 'F'"}],
         "mark": {"type": "tick", "size": 34, "thickness": 1.5, "color": "#000", "opacity": 1},
         "encoding": {"x": {"field": "group", "type": "nominal", "scale": {"domain": ["NTD", "BBz", "28z", "MMLV-CD4z"]}},
                      "y": {"field": "value", "type": "quantitative", "scale": {"type": "log", "domain": [0.01, 100000], "nice": false}}}},
        {"data": {"name": "sig"}, "transform": [{"filter": "datum.panel == 'F'"}],
         "mark": {"type": "rule", "color": "#000", "strokeWidth": 1.3, "xOffset": 4, "x2Offset": -4},
         "encoding": {"x": {"field": "from", "type": "nominal", "scale": {"domain": ["NTD", "BBz", "28z", "MMLV-CD4z"]}}, "x2": {"field": "to"},
                      "y": {"field": "value", "type": "quantitative", "scale": {"type": "log", "domain": [0.01, 100000], "nice": false}}}},
        {"data": {"name": "sig"}, "transform": [{"filter": "datum.panel == 'F' && indexof(['NTD','BBz','28z','MMLV-CD4z'], datum.to) - indexof(['NTD','BBz','28z','MMLV-CD4z'], datum.from) == 3"}],
         "mark": {"type": "text", "fontSize": 12, "baseline": "alphabetic", "dy": {"expr": "datum.label == 'ns' ? -3.5 : 1"}},
         "encoding": {"x": {"field": "from", "type": "nominal", "bandPosition": 2.0, "scale": {"domain": ["NTD", "BBz", "28z", "MMLV-CD4z"]}},
                      "y": {"field": "value", "type": "quantitative", "scale": {"type": "log", "domain": [0.01, 100000], "nice": false}}, "text": {"field": "label"}}},
        {"data": {"name": "sig"}, "transform": [{"filter": "datum.panel == 'F' && indexof(['NTD','BBz','28z','MMLV-CD4z'], datum.to) - indexof(['NTD','BBz','28z','MMLV-CD4z'], datum.from) == 2"}],
         "mark": {"type": "text", "fontSize": 12, "baseline": "alphabetic", "dy": {"expr": "datum.label == 'ns' ? -3.5 : 1"}},
         "encoding": {"x": {"field": "from", "type": "nominal", "bandPosition": 1.5, "scale": {"domain": ["NTD", "BBz", "28z", "MMLV-CD4z"]}},
                      "y": {"field": "value", "type": "quantitative", "scale": {"type": "log", "domain": [0.01, 100000], "nice": false}}, "text": {"field": "label"}}},
        {"data": {"name": "sig"}, "transform": [{"filter": "datum.panel == 'F' && indexof(['NTD','BBz','28z','MMLV-CD4z'], datum.to) - indexof(['NTD','BBz','28z','MMLV-CD4z'], datum.from) == 1"}],
         "mark": {"type": "text", "fontSize": 12, "baseline": "alphabetic", "dy": {"expr": "datum.label == 'ns' ? -3.5 : 1"}},
         "encoding": {"x": {"field": "from", "type": "nominal", "bandPosition": 1.0, "scale": {"domain": ["NTD", "BBz", "28z", "MMLV-CD4z"]}},
                      "y": {"field": "value", "type": "quantitative", "scale": {"type": "log", "domain": [0.01, 100000], "nice": false}}, "text": {"field": "label"}}}
      ]
    }
  ]
}
